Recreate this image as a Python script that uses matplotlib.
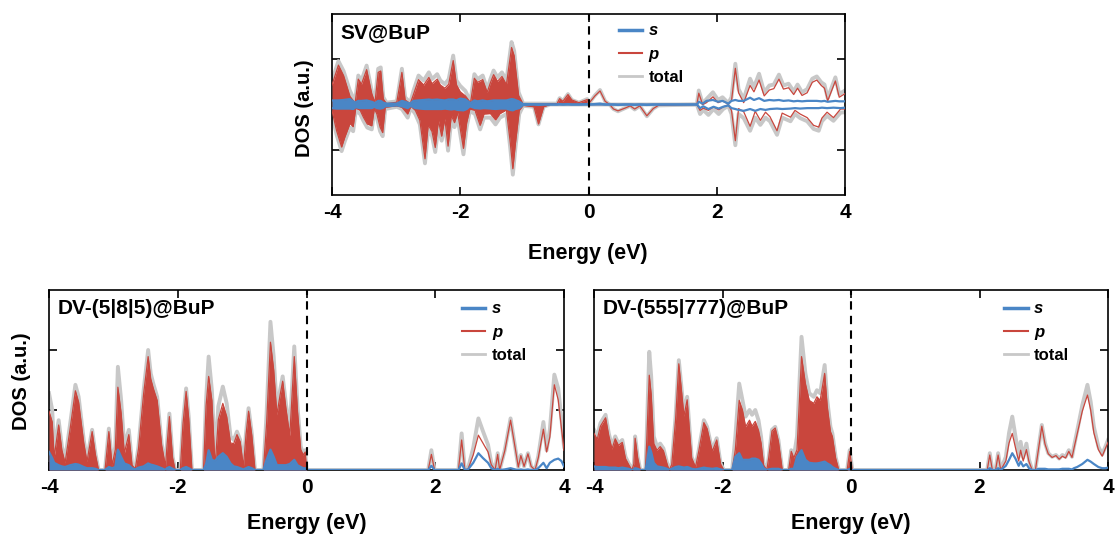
import numpy as np
import matplotlib.pyplot as plt
from matplotlib.lines import Line2D

plt.rcParams['font.family'] = ['Liberation Sans', 'DejaVu Sans']
plt.rcParams['font.weight'] = 'bold'
plt.rcParams['axes.unicode_minus'] = False

C_S = '#4a86c6'
C_P = '#c9463d'
C_T = '#c8c8c8'

# ---- SV@BuP, spin up (energy in eV, s and p DOS in a.u.) ----
sv_E_up = [-4.00, -3.90, -3.82, -3.72, -3.64, -3.59, -3.54, -3.46, -3.38, -3.33,
           -3.28, -3.24, -3.20, -3.15, -2.99, -2.91, -2.86, -2.78, -2.73, -2.65,
           -2.57, -2.49, -2.44, -2.36, -2.31, -2.24, -2.18, -2.11, -2.06, -2.00,
           -1.92, -1.84, -1.78, -1.73, -1.65, -1.58, -1.53, -1.48, -1.42, -1.35,
           -1.28, -1.20, -1.16, -1.09, -1.02, -0.49, -0.45, -0.40, -0.32, -0.26,
           -0.15, -0.02, 0.02, 0.10, 0.18, 0.26, 0.33, 1.69, 1.72, 1.78,
           1.84, 1.94, 2.02, 2.09, 2.18, 2.23, 2.29, 2.34, 2.42, 2.52,
           2.58, 2.66, 2.74, 2.82, 2.89, 2.97, 3.04, 3.12, 3.20, 3.26,
           3.33, 3.41, 3.49, 3.56, 3.63, 3.68, 3.73, 3.85, 3.91, 4.00]
sv_p_up = [0.43, 0.87, 0.64, 0.18, 0.03, 0.56, 0.45, 0.77, 0.24, 0.04,
           0.71, 0.74, 0.12, 0.02, 0.05, 0.71, 0.10, 0.02, 0.22, 0.55,
           0.43, 0.60, 0.46, 0.56, 0.43, 0.36, 0.45, 0.97, 0.44, 0.28,
           0.19, 0.04, 0.58, 0.49, 0.55, 0.27, 0.48, 0.66, 0.51, 0.62,
           0.44, 1.26, 1.08, 0.20, 0.01, 0.02, 0.13, 0.07, 0.22, 0.10,
           0.04, 0.11, 0.05, 0.19, 0.30, 0.07, 0.00, 0.00, 0.25, 0.00,
           0.04, 0.17, 0.04, 0.08, 0.01, 0.08, 0.80, 0.26, 0.04, 0.42,
           0.28, 0.54, 0.19, 0.32, 0.35, 0.56, 0.34, 0.37, 0.22, 0.36,
           0.20, 0.26, 0.49, 0.54, 0.42, 0.36, 0.08, 0.52, 0.16, 0.24]
sv_s_up = [0.09, 0.09, 0.10, 0.12, 0.04, 0.08, 0.08, 0.09, 0.06, 0.03,
           0.08, 0.08, 0.04, 0.02, 0.02, 0.08, 0.06, 0.02, 0.08, 0.09,
           0.10, 0.11, 0.10, 0.11, 0.10, 0.09, 0.11, 0.11, 0.09, 0.13,
           0.11, 0.03, 0.09, 0.07, 0.09, 0.07, 0.08, 0.09, 0.09, 0.09,
           0.09, 0.12, 0.11, 0.07, 0.01, 0.00, 0.01, 0.00, 0.01, 0.00,
           0.00, 0.01, 0.00, 0.01, 0.02, 0.00, 0.00, 0.00, 0.06, 0.02,
           0.08, 0.10, 0.06, 0.08, 0.02, 0.08, 0.10, 0.08, 0.08, 0.15,
           0.10, 0.14, 0.08, 0.10, 0.09, 0.10, 0.08, 0.09, 0.07, 0.08,
           0.07, 0.08, 0.08, 0.08, 0.07, 0.08, 0.06, 0.08, 0.07, 0.07]

# ---- SV@BuP, spin down ----
sv_E_dn = [-4.00, -3.93, -3.85, -3.80, -3.72, -3.67, -3.63, -3.56, -3.51, -3.45,
           -3.38, -3.34, -3.30, -3.25, -3.21, -3.17, -2.99, -2.91, -2.82, -2.77,
           -2.70, -2.63, -2.55, -2.50, -2.44, -2.39, -2.34, -2.29, -2.24, -2.19,
           -2.14, -2.09, -2.04, -1.95, -1.90, -1.85, -1.77, -1.69, -1.63, -1.53,
           -1.45, -1.38, -1.28, -1.22, -1.18, -1.14, -1.08, -1.02, -0.85, -0.78,
           -0.70, -0.60, 0.33, 0.39, 0.46, 0.57, 0.65, 0.72, 0.80, 0.91,
           1.01, 1.09, 1.69, 1.74, 1.79, 1.87, 1.95, 2.03, 2.10, 2.18,
           2.23, 2.29, 2.34, 2.42, 2.52, 2.60, 2.68, 2.76, 2.83, 2.94,
           3.02, 3.15, 3.22, 3.30, 3.41, 3.51, 3.59, 3.64, 3.72, 3.82,
           3.93, 4.00]
sv_p_dn = [-0.13, -0.57, -0.94, -0.72, -0.42, -0.49, -0.08, -0.13, -0.28, -0.43,
           -0.47, -0.09, -0.21, -0.50, -0.62, -0.06, -0.03, -0.06, -0.21, -0.04,
           -0.13, -0.35, -1.20, -0.45, -0.60, -0.95, -0.35, -0.70, -0.31, -0.92,
           -0.24, -0.40, -0.18, -0.97, -0.40, -0.10, -0.13, -0.46, -0.21, -0.20,
           -0.34, -0.20, -0.12, -0.84, -1.42, -0.86, -0.13, -0.02, -0.05, -0.43,
           -0.05, 0.00, 0.00, -0.10, -0.14, -0.08, -0.03, -0.10, -0.03, -0.25,
           -0.09, -0.02, 0.00, -0.13, -0.08, -0.13, -0.05, -0.12, -0.05, -0.01,
           -0.13, -0.80, -0.09, -0.16, -0.48, -0.15, -0.35, -0.17, -0.27, -0.58,
           -0.19, -0.28, -0.13, -0.21, -0.29, -0.46, -0.50, -0.30, -0.17, -0.29,
           -0.10, -0.10]
sv_s_dn = [-0.08, -0.09, -0.09, -0.09, -0.09, -0.10, -0.06, -0.08, -0.08, -0.08,
           -0.08, -0.05, -0.08, -0.09, -0.08, -0.04, -0.02, -0.04, -0.08, -0.03,
           -0.08, -0.09, -0.10, -0.10, -0.10, -0.10, -0.10, -0.10, -0.09, -0.10,
           -0.11, -0.10, -0.12, -0.13, -0.10, -0.04, -0.08, -0.09, -0.08, -0.09,
           -0.10, -0.09, -0.09, -0.12, -0.13, -0.10, -0.08, -0.01, 0.00, -0.01,
           0.00, 0.00, 0.00, 0.00, -0.01, 0.00, 0.00, -0.01, 0.00, -0.01,
           0.00, 0.00, 0.00, -0.08, -0.04, -0.10, -0.05, -0.09, -0.05, -0.02,
           -0.08, -0.10, -0.12, -0.14, -0.10, -0.14, -0.10, -0.12, -0.10, -0.09,
           -0.10, -0.09, -0.08, -0.09, -0.08, -0.08, -0.08, -0.07, -0.08, -0.07,
           -0.08, -0.07]

# ---- DV-(5|8|5)@BuP ----
dv585_E = [-4.00, -3.95, -3.92, -3.85, -3.80, -3.75, -3.67, -3.59, -3.54, -3.46,
           -3.41, -3.33, -3.28, -3.23, -3.13, -3.07, -3.02, -2.97, -2.93, -2.88,
           -2.83, -2.76, -2.71, -2.66, -2.61, -2.53, -2.46, -2.42, -2.38, -2.32,
           -2.25, -2.19, -2.17, -2.13, -2.08, -2.04, -1.96, -1.92, -1.87, -1.83,
           -1.78, -1.60, -1.56, -1.52, -1.47, -1.42, -1.37, -1.30, -1.24, -1.18,
           -1.13, -1.08, -1.03, -0.98, -0.94, -0.90, -0.85, -0.80, -0.67, -0.62,
           -0.56, -0.51, -0.46, -0.41, -0.37, -0.32, -0.26, -0.19, -0.14, -0.09,
           -0.05, -0.02, 0.00, 1.89, 1.94, 1.99, 2.36, 2.41, 2.46, 2.51,
           2.59, 2.67, 2.74, 2.82, 2.87, 2.93, 2.97, 3.00, 3.08, 3.17,
           3.24, 3.29, 3.33, 3.38, 3.44, 3.49, 3.55, 3.60, 3.68, 3.73,
           3.78, 3.85, 3.91, 3.96, 4.00]
dv585_p = [0.98, 0.80, 0.21, 0.75, 0.33, 0.12, 0.70, 1.32, 1.13, 0.45,
           0.14, 0.64, 0.26, 0.00, 0.00, 0.64, 0.08, 0.34, 1.38, 0.95,
           0.28, 0.59, 0.08, 0.02, 0.35, 1.27, 1.89, 1.52, 1.36, 1.16,
           0.41, 0.06, 0.36, 0.89, 0.20, 0.00, 0.00, 0.75, 1.31, 0.86,
           0.00, 0.00, 1.07, 1.56, 1.16, 0.05, 0.84, 1.11, 0.89, 0.45,
           0.44, 0.59, 0.47, 0.05, 0.58, 0.98, 0.58, 0.00, 0.00, 0.77,
           2.13, 1.67, 0.92, 1.25, 1.48, 1.03, 0.57, 1.89, 0.98, 0.34,
           0.25, 0.30, 0.00, 0.00, 0.26, 0.00, 0.00, 0.50, 0.00, 0.02,
           0.25, 0.58, 0.45, 0.30, 0.09, 0.00, 0.26, 0.00, 0.32, 0.83,
           0.38, 0.05, 0.24, 0.06, 0.27, 0.06, 0.00, 0.20, 0.68, 0.30,
           0.55, 1.42, 1.17, 0.70, 0.33]
dv585_s = [0.30, 0.20, 0.12, 0.08, 0.06, 0.05, 0.08, 0.10, 0.09, 0.05,
           0.03, 0.03, 0.02, 0.00, 0.00, 0.05, 0.03, 0.05, 0.34, 0.22,
           0.11, 0.08, 0.03, 0.01, 0.04, 0.06, 0.11, 0.09, 0.08, 0.06,
           0.03, 0.00, 0.03, 0.05, 0.02, 0.00, 0.00, 0.03, 0.05, 0.03,
           0.00, 0.00, 0.10, 0.33, 0.17, 0.15, 0.22, 0.28, 0.22, 0.11,
           0.06, 0.05, 0.03, 0.01, 0.03, 0.05, 0.03, 0.00, 0.00, 0.17,
           0.34, 0.22, 0.08, 0.08, 0.08, 0.08, 0.10, 0.17, 0.08, 0.05,
           0.03, 0.03, 0.00, 0.00, 0.07, 0.00, 0.00, 0.11, 0.00, 0.01,
           0.12, 0.28, 0.20, 0.12, 0.03, 0.00, 0.02, 0.00, 0.01, 0.03,
           0.01, 0.00, 0.01, 0.00, 0.01, 0.00, 0.00, 0.03, 0.12, 0.03,
           0.12, 0.17, 0.19, 0.15, 0.06]

# ---- DV-(555|777)@BuP ----
dv555_E = [-4.00, -3.95, -3.90, -3.82, -3.77, -3.72, -3.67, -3.62, -3.56, -3.51,
           -3.46, -3.41, -3.38, -3.36, -3.32, -3.28, -3.20, -3.18, -3.14, -3.11,
           -3.07, -3.02, -2.97, -2.92, -2.86, -2.83, -2.79, -2.73, -2.68, -2.64,
           -2.60, -2.55, -2.52, -2.48, -2.42, -2.37, -2.29, -2.24, -2.16, -2.09,
           -2.03, -1.98, -1.85, -1.80, -1.74, -1.69, -1.64, -1.58, -1.54, -1.49,
           -1.44, -1.40, -1.36, -1.31, -1.28, -1.23, -1.18, -1.13, -1.07, -0.97,
           -0.93, -0.89, -0.84, -0.77, -0.71, -0.65, -0.58, -0.53, -0.48, -0.41,
           -0.37, -0.32, -0.29, -0.24, -0.19, -0.06, -0.02, 0.02, 2.12, 2.16,
           2.20, 2.25, 2.29, 2.33, 2.41, 2.46, 2.51, 2.56, 2.61, 2.64,
           2.68, 2.73, 2.77, 2.82, 2.87, 2.92, 2.97, 3.02, 3.07, 3.13,
           3.19, 3.24, 3.29, 3.34, 3.39, 3.44, 3.47, 3.52, 3.60, 3.68,
           3.73, 3.78, 3.85, 3.91, 3.96, 4.00]
dv555_p = [0.61, 0.51, 0.73, 0.87, 0.57, 0.35, 0.52, 0.41, 0.46, 0.19,
           0.09, 0.00, 0.10, 0.53, 0.20, 0.00, 0.00, 0.46, 1.58, 1.26,
           0.44, 0.33, 0.39, 0.32, 0.09, 0.00, 0.09, 0.84, 1.77, 1.34,
           0.90, 1.17, 0.74, 0.20, 0.05, 0.31, 0.79, 0.69, 0.31, 0.50,
           0.10, 0.00, 0.00, 0.34, 1.16, 1.00, 0.72, 0.83, 0.73, 0.81,
           0.66, 0.45, 0.08, 0.00, 0.21, 0.65, 0.70, 0.48, 0.00, 0.00,
           0.31, 0.20, 0.34, 1.89, 1.44, 1.16, 1.11, 1.22, 1.16, 1.61,
           1.06, 0.64, 0.56, 0.20, 0.00, 0.00, 0.31, 0.00, 0.00, 0.25,
           0.00, 0.00, 0.25, 0.00, 0.15, 0.45, 0.61, 0.37, 0.15, 0.33,
           0.15, 0.34, 0.14, 0.00, 0.00, 0.36, 0.73, 0.43, 0.27, 0.21,
           0.24, 0.18, 0.23, 0.20, 0.31, 0.21, 0.36, 0.60, 0.98, 1.25,
           1.00, 0.62, 0.34, 0.23, 0.36, 0.46]
dv555_s = [0.06, 0.05, 0.05, 0.05, 0.04, 0.04, 0.04, 0.03, 0.04, 0.03,
           0.02, 0.00, 0.01, 0.03, 0.02, 0.00, 0.00, 0.10, 0.39, 0.30,
           0.12, 0.06, 0.05, 0.04, 0.02, 0.00, 0.02, 0.05, 0.06, 0.05,
           0.04, 0.05, 0.04, 0.02, 0.01, 0.02, 0.04, 0.03, 0.02, 0.03,
           0.01, 0.00, 0.00, 0.22, 0.28, 0.17, 0.17, 0.17, 0.19, 0.19,
           0.17, 0.11, 0.03, 0.00, 0.01, 0.02, 0.02, 0.02, 0.00, 0.00,
           0.02, 0.02, 0.22, 0.33, 0.17, 0.12, 0.11, 0.11, 0.12, 0.14,
           0.11, 0.08, 0.05, 0.02, 0.00, 0.00, 0.02, 0.00, 0.00, 0.03,
           0.00, 0.00, 0.03, 0.00, 0.07, 0.17, 0.28, 0.19, 0.07, 0.14,
           0.06, 0.10, 0.03, 0.00, 0.00, 0.02, 0.02, 0.02, 0.01, 0.01,
           0.01, 0.01, 0.02, 0.02, 0.02, 0.01, 0.03, 0.05, 0.10, 0.17,
           0.14, 0.10, 0.05, 0.03, 0.03, 0.04]

W, H = 1118, 542


def draw_dos(ax, E, p, s):
    E = np.array(E)
    p = np.array(p)
    s = np.array(s)
    total = p + s
    occ = E <= 0
    ax.plot(E, total, color=C_T, lw=2.8, zorder=2)
    ax.fill_between(E, 0, p, where=occ, color=C_P, lw=0, zorder=3)
    ax.plot(E, p, color=C_P, lw=0.9, zorder=4)
    ax.fill_between(E, 0, s, where=occ, color=C_S, lw=0, zorder=5)
    ax.plot(E, s, color=C_S, lw=1.6, zorder=6)


def style(ax, ylim, yticks, title, leg_x, leg_y):
    ax.set_xlim(-4, 4)
    ax.set_ylim(*ylim)
    ax.set_xticks([-4, -2, 0, 2, 4])
    ax.set_yticks(yticks)
    ax.set_yticklabels([])
    ax.tick_params(direction='in', length=6, width=1.2, top=True, right=True,
                   labelsize=15, pad=6)
    for sp in ax.spines.values():
        sp.set_linewidth(1.2)
    ax.axvline(0, color='black', ls='--', lw=1.5, dashes=(4, 3), zorder=7)
    ax.text(0.017, 0.95, title, transform=ax.transAxes, ha='left', va='top',
            fontsize=15)
    handles = [Line2D([], [], color=C_S, lw=2.5),
               Line2D([], [], color=C_P, lw=1.5),
               Line2D([], [], color=C_T, lw=2.0)]
    leg = ax.legend(handles, ['s', 'p', 'total'], loc='upper left',
                    bbox_to_anchor=(leg_x, leg_y), frameon=False, fontsize=12,
                    handlelength=1.4, handletextpad=0.4, labelspacing=0.5,
                    borderpad=0, borderaxespad=0)
    for t, st in zip(leg.get_texts(), ['italic', 'italic', 'normal']):
        t.set_style(st)


fig = plt.figure(figsize=(W / 100, H / 100), dpi=100)
ax_top = fig.add_axes([332 / W, 1 - 195 / H, 513 / W, 181 / H])
ax_bl = fig.add_axes([49 / W, 1 - 470 / H, 515 / W, 180 / H])
ax_br = fig.add_axes([594 / W, 1 - 470 / H, 514 / W, 180 / H])

draw_dos(ax_top, sv_E_up, sv_p_up, sv_s_up)
draw_dos(ax_top, sv_E_dn, sv_p_dn, sv_s_dn)
style(ax_top, (-2, 2), [-1, 1], 'SV@BuP', 0.559, 0.948)

draw_dos(ax_bl, dv585_E, dv585_p, dv585_s)
style(ax_bl, (0, 3), [1, 2], 'DV-(5|8|5)@BuP', 0.802, 0.937)

draw_dos(ax_br, dv555_E, dv555_p, dv555_s)
style(ax_br, (0, 3), [1, 2], 'DV-(555|777)@BuP', 0.798, 0.937)

# axis titles placed in figure pixels
fig.text(588 / W, 1 - 253 / H, 'Energy (eV)', ha='center', va='center', fontsize=15.5)
fig.text(307 / W, 1 - 523 / H, 'Energy (eV)', ha='center', va='center', fontsize=15.5)
fig.text(851 / W, 1 - 523 / H, 'Energy (eV)', ha='center', va='center', fontsize=15.5)
fig.text(305 / W, 1 - 108 / H, 'DOS (a.u.)', rotation=90, ha='center', va='center', fontsize=14.5)
fig.text(22 / W, 1 - 381 / H, 'DOS (a.u.)', rotation=90, ha='center', va='center', fontsize=14.5)

fig.savefig('out.png', dpi=100)
